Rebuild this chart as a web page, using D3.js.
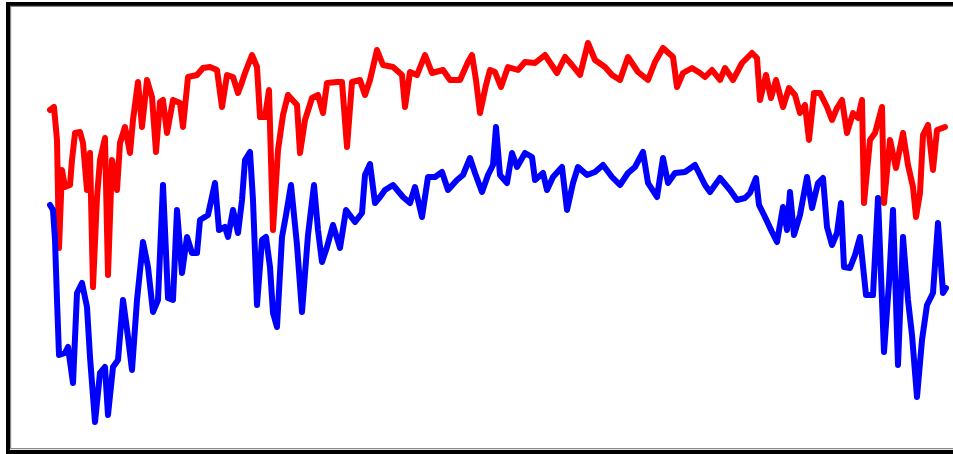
<!DOCTYPE html>
<html>
<head>
<meta charset="utf-8">
<script src="https://cdn.jsdelivr.net/npm/d3@7"></script>
<style>
  html, body { margin: 0; padding: 0; background: #fff; overflow: hidden; }
  svg { display: block; }
</style>
</head>
<body>
<svg id="chart" width="953" height="454"></svg>
<script>
// Sample positions (t) and values for each series
const redT = [
  0,4,7,9,12,15,20,22,25,30,
  33,37,40,43,47,50,55,58,62,67,
  70,75,80,83,88,92,97,102,106,110,
  113,117,123,130,133,138,147,153,160,167,
  172,177,183,188,191,195,202,207,210,215,
  219,223,228,233,238,247,250,255,262,268,
  273,277,287,292,297,302,310,315,320,327,
  333,343,352,355,360,367,375,382,393,400,
  410,418,422,426,430,436,440,445,451,458,
  468,475,485,495,507,515,522,530,538,545,
  555,562,570,578,588,598,605,613,623,627,
  633,642,650,655,662,670,675,683,692,702,
  707,710,716,721,726,733,739,745,750,755,
  759,764,770,777,782,787,792,797,803,808,
  812,814,820,825,832,834,840,846,853,858,
  863,866,870,873,878,883,887,895];
const redV = [
  340,343,310,202,280,263,265,290,317,318,
  307,260,297,163,253,290,312,175,290,260,
  307,323,297,330,368,323,370,353,298,348,
  350,317,350,347,323,373,375,382,383,380,
  343,375,373,357,365,377,395,383,333,333,
  360,220,300,335,355,345,297,330,352,355,
  337,367,368,368,303,368,370,355,370,400,
  385,383,375,343,378,375,395,377,380,370,
  370,388,395,370,337,365,380,378,363,383,
  380,388,387,395,377,393,385,375,407,390,
  383,375,370,393,378,370,388,402,393,363,
  377,382,377,373,380,370,382,370,387,397,
  392,350,375,352,370,343,362,355,337,345,
  310,357,357,343,330,342,350,317,337,332,
  350,247,310,317,343,247,310,282,317,285,
  263,233,257,315,325,280,320,323];
const blueT = [
  0,3,5,7,9,15,18,23,27,32,
  37,40,45,50,55,58,63,68,73,78,
  82,87,93,98,103,108,113,118,123,127,
  132,137,142,147,150,158,165,169,175,178,
  183,188,192,195,200,203,207,212,216,220,
  223,227,232,236,241,247,252,258,264,268,
  272,277,283,290,296,305,312,315,320,325,
  330,335,343,353,360,365,372,378,385,392,
  398,407,413,420,425,432,438,443,446,450,
  457,462,467,475,482,485,493,497,503,512,
  517,523,528,537,545,553,562,570,578,585,
  593,598,607,613,618,625,635,645,655,660,
  670,680,687,695,700,706,709,715,722,727,
  733,737,740,744,750,757,762,768,773,777,
  782,787,791,794,800,805,810,816,823,828,
  834,839,843,848,853,858,862,867,872,877,
  883,888,893,896];
const blueV = [
  245,240,210,150,95,97,103,67,157,167,
  143,93,28,77,83,35,83,90,150,113,
  80,150,208,183,138,150,265,152,150,240,
  177,213,197,197,230,235,267,220,223,213,
  240,217,250,290,298,250,145,210,213,183,
  137,123,213,235,265,205,138,215,265,220,
  188,203,225,202,240,228,237,275,286,247,
  253,260,265,253,247,263,233,273,273,278,
  260,270,275,292,277,258,275,285,323,275,
  267,297,283,297,293,270,277,260,273,283,
  240,267,283,275,278,285,273,265,277,283,
  298,267,253,292,267,277,278,285,265,258,
  272,260,250,252,257,272,245,233,218,208,
  243,220,258,215,235,273,242,267,272,223,
  205,217,247,183,182,195,213,155,155,252,
  98,167,240,85,213,150,115,53,110,145,
  157,227,157,162];

const W = 953, H = 454;
const svg = d3.select('#chart');

const x = d3.scaleLinear().domain([0, 896]).range([50, 946]);
const y = d3.scaleLinear().domain([0, 450]).range([450, 0]);

// frame
svg.append('rect')
  .attr('x', 8).attr('y', 4)
  .attr('width', 960).attr('height', 448)
  .attr('fill', 'none')
  .attr('stroke', '#000')
  .attr('stroke-width', 4);
svg.append('rect')
  .attr('x', 10.6).attr('y', 6.4)
  .attr('width', 960).attr('height', 442.2)
  .attr('fill', 'none')
  .attr('stroke', '#888')
  .attr('stroke-width', 1.2);

const line = d3.line()
  .x(d => x(d[0]))
  .y(d => y(d[1]))
  .curve(d3.curveLinear);

const redData = d3.zip(redT, redV);
const blueData = d3.zip(blueT, blueV);

svg.append('path')
  .datum(redData)
  .attr('d', line)
  .attr('fill', 'none')
  .attr('stroke', '#ff0000')
  .attr('stroke-width', 6)
  .attr('stroke-linejoin', 'round')
  .attr('stroke-linecap', 'round');

svg.append('path')
  .datum(blueData)
  .attr('d', line)
  .attr('fill', 'none')
  .attr('stroke', '#0000ff')
  .attr('stroke-width', 6)
  .attr('stroke-linejoin', 'round')
  .attr('stroke-linecap', 'round');
</script>
</body>
</html>
